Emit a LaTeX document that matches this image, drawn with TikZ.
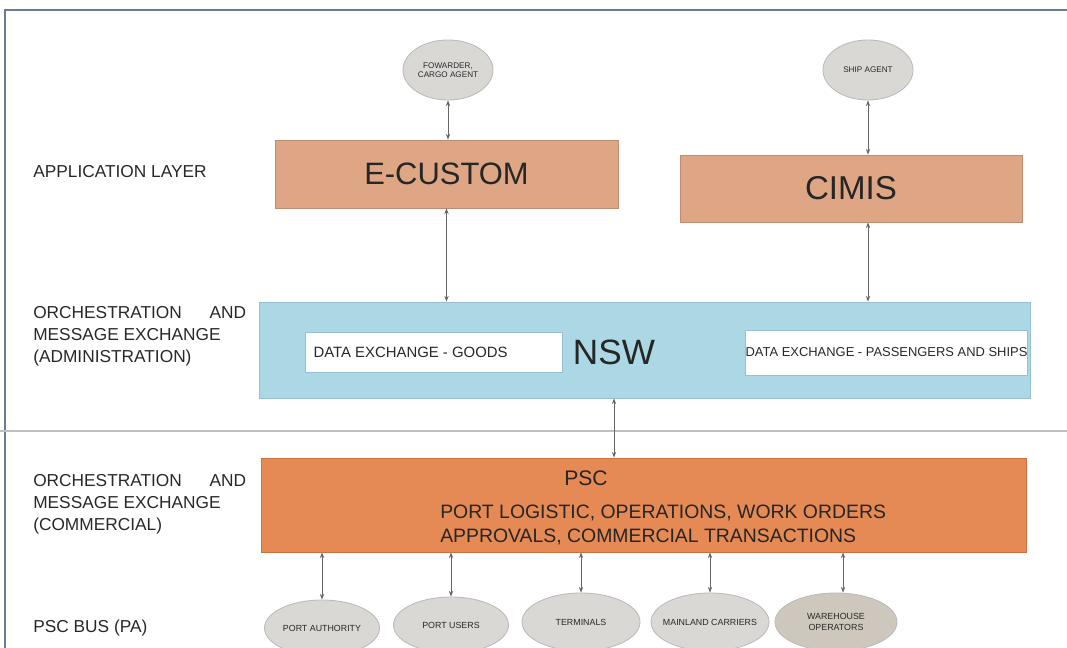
\documentclass[tikz,border=0pt]{standalone}
\usepackage{fontspec}
\setmainfont{Liberation Sans}
\usetikzlibrary{shapes.geometric,arrows.meta}
\definecolor{appfill}{RGB}{222,166,132}
\definecolor{appdraw}{RGB}{190,140,112}
\definecolor{nswfill}{RGB}{172,216,230}
\definecolor{nswdraw}{RGB}{150,192,208}
\definecolor{pscfill}{RGB}{229,138,84}
\definecolor{pscdraw}{RGB}{205,112,62}
\definecolor{actorfill}{RGB}{218,216,213}
\definecolor{actordraw}{RGB}{188,186,183}
\definecolor{wareFill}{RGB}{206,199,189}
\definecolor{framecol}{RGB}{105,125,145}
\definecolor{textcol}{RGB}{40,40,40}

\begin{document}
\begin{tikzpicture}[
            x=0.025cm, y=-0.025cm,
            layer/.style={font=\fontsize{12.3}{15.6}\selectfont, text=textcol, anchor=west, align=left, inner sep=0pt},
            appbox/.style={rectangle, draw=appdraw, fill=appfill, line width=0.6pt, inner sep=0pt,
                           font=\fontsize{22}{24}\selectfont, text=black!85},
            exbox/.style={rectangle, draw=nswdraw, fill=white, line width=0.6pt, inner sep=0pt, text=textcol},
            actor/.style={ellipse, draw=actordraw, fill=actorfill, line width=0.6pt, inner sep=0pt,
                          font=\fontsize{6.3}{7.5}\selectfont, text=textcol, align=center},
            link/.style={draw=black!60, line width=0.5pt, {Stealth[length=4pt,width=3pt]}-{Stealth[length=4pt,width=3pt]}}
        ]
        \useasboundingbox (0,0) rectangle (1067,648);

        % Frame and separator
        \draw[framecol, line width=1pt] (1067,10) -- (5,10) -- (5,648);
        \draw[black!25, line width=1.2pt] (0,431) -- (1067,431);

        % Layer labels
        \node[layer] (lapp) at (33,172) {APPLICATION LAYER};
        \node[layer] (ladm) at (33,336) {ORCHESTRATION\hspace{1.6em}AND\\MESSAGE EXCHANGE\\(ADMINISTRATION)};
        \node[layer] (lcom) at (33,504) {ORCHESTRATION\hspace{1.6em}AND\\MESSAGE EXCHANGE\\(COMMERCIAL)};
        \node[layer] (lbus) at (33,628) {PSC BUS (PA)};

        % Top actors
        \node[actor, font=\fontsize{5.8}{6.8}\selectfont, minimum width=2.25cm, minimum height=1.5cm] (fowarder) at (448,70) {FOWARDER,\\CARGO AGENT};
        \node[actor, font=\fontsize{5.8}{6.8}\selectfont, minimum width=2.25cm, minimum height=1.5cm] (shipagent) at (868,70) {SHIP AGENT};

        % Application layer
        \node[appbox, minimum width=8.575cm, minimum height=1.7cm] (ecustom) at (446.5,174) {E-CUSTOM};
        \node[appbox, font=\fontsize{23.5}{25}\selectfont, minimum width=8.55cm, minimum height=1.675cm] (cimis) at (851,188.5) {CIMIS};

        % NSW
        \node[rectangle, draw=nswdraw, fill=nswfill, line width=0.6pt, minimum width=19.25cm, minimum height=2.4cm] (nsw) at (645,350) {};
        \node[font=\fontsize{25}{28}\selectfont, text=black!85] (nswlabel) at (614,352) {NSW};
        \node[exbox, minimum width=6.425cm, minimum height=1cm] (goods) at (433.5,352) {};
        \node[anchor=west, font=\fontsize{10.6}{12}\selectfont, text=textcol] at (goods.west) {\hspace{0.1cm}DATA EXCHANGE - GOODS};
        \node[exbox, font=\fontsize{9.2}{11}\selectfont, minimum width=7.025cm, minimum height=1.125cm] (passengers) at (886.5,352.5) {DATA EXCHANGE - PASSENGERS AND SHIPS};

        % PSC
        \node[rectangle, draw=pscdraw, fill=pscfill, line width=0.6pt, minimum width=19.1cm, minimum height=2.35cm] (psc) at (644,505) {};
        \node[font=\fontsize{15}{17}\selectfont, text=black!85] (psclabel) at (586,478) {PSC};
        \node[anchor=west, font=\fontsize{13.8}{17}\selectfont, text=black!85, align=left, inner sep=0pt] (pscdesc) at (440,525) {PORT LOGISTIC, OPERATIONS, WORK ORDERS\\APPROVALS, COMMERCIAL TRANSACTIONS};

        % Bottom actors
        \node[actor, minimum width=2.875cm, minimum height=1.4cm] (portauth) at (322,628) {PORT AUTHORITY};
        \node[actor, minimum width=2.875cm, minimum height=1.4cm] (portusers) at (451,625) {PORT USERS};
        \node[actor, minimum width=2.95cm, minimum height=1.45cm] (terminals) at (581,622) {TERMINALS};
        \node[actor, inner xsep=-6pt, minimum width=2.95cm, minimum height=1.45cm] (mainland) at (710,622) {MAINLAND CARRIERS};
        \node[actor, fill=wareFill, minimum width=3.05cm, minimum height=1.45cm] (warehouse) at (836,622) {WAREHOUSE\\OPERATORS};

        \draw[link] (fowarder) -- (fowarder |- ecustom.north);
        \draw[link] (shipagent) -- (shipagent |- cimis.north);

        \draw[link] (ecustom.south) -- (ecustom.south |- nsw.north);
        \draw[link] (shipagent |- cimis.south) -- (shipagent |- nsw.north);

        \draw[link] (nswlabel |- nsw.south) -- (nswlabel |- psc.north);

        \draw[link] (portauth |- psc.south) -- (portauth);
        \draw[link] (portusers |- psc.south) -- (portusers);
        \draw[link] (terminals |- psc.south) -- (terminals);
        \draw[link] (mainland |- psc.south) -- (mainland);
        \draw[link] ([xshift=5] warehouse.north |- psc.south) -- ([xshift=5] warehouse.north);

    \end{tikzpicture}
\end{document}
